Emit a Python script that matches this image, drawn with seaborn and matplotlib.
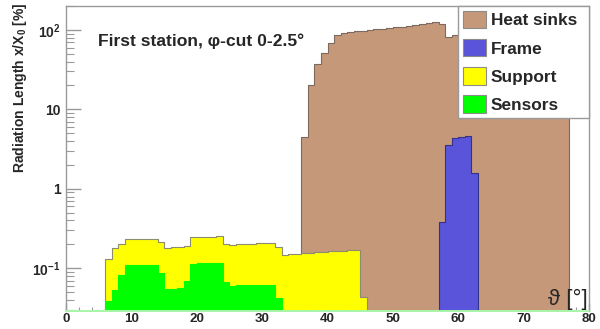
import numpy as np
import pandas as pd
import matplotlib
matplotlib.use("Agg")
import matplotlib.pyplot as plt
import seaborn as sns
from matplotlib.patches import Patch
from matplotlib.ticker import FixedLocator, FixedFormatter, NullFormatter, MultipleLocator, LogLocator

# Radiation length x/X0 [%] per 1-degree theta bin (first station, phi-cut 0-2.5 deg)
theta_edges = list(range(0, 81))

sensors_first_bin = 6
sensors = [0.039, 0.054, 0.082, 0.109, 0.109, 0.110, 0.111, 0.111, 0.087,
           0.055, 0.055, 0.056, 0.069, 0.114, 0.115, 0.115, 0.115, 0.115,
           0.067, 0.0606, 0.061, 0.061, 0.061, 0.062, 0.062, 0.062, 0.042]

support_first_bin = 6
support = [0.092, 0.125, 0.123, 0.123, 0.124, 0.124, 0.125, 0.125, 0.128,
           0.126, 0.128, 0.128, 0.124, 0.132, 0.133, 0.135, 0.136, 0.138,
           0.137, 0.137, 0.139, 0.141, 0.143, 0.144, 0.146, 0.148, 0.142,
           0.149, 0.151, 0.153, 0.155, 0.157, 0.159, 0.161, 0.163, 0.165,
           0.167, 0.168, 0.170, 0.044]

frame_first_bin = 57
frame = [0.38, 3.54, 4.39, 4.47, 4.65, 1.56]

heat_sinks_first_bin = 36
heat_sinks = [4.3, 20.4, 37.6, 51.4, 68.8, 85.1,
              92, 94, 96, 98, 100, 102, 104, 106, 108, 110, 113, 116, 119, 122, 125,
              119.6, 77.5, 81, 82, 83, 86,
              88, 89, 90, 90, 91, 92, 92, 93, 93, 94, 94, 95, 95, 96]

components = ["Heat sinks", "Frame", "Support", "Sensors"]
fill_colors = {"Heat sinks": "#C6987A", "Frame": "#5954D9",
               "Support": "#FFFF00", "Sensors": "#00FF00"}
edge_colors = {"Heat sinks": "#7d6a5e", "Frame": "#33318a",
               "Support": "#8c8c6e", "Sensors": "#00FF00"}

x_ticks = [0, 10, 20, 30, 40, 50, 60, 70, 80]
y_ticks = [0.1, 1, 10, 100]
y_tick_labels = [r"$10^{-1}$", "1", "10", r"$10^{2}$"]

title_text = "First station, \u03c6-cut 0-2.5\u00b0"
y_title = r"Radiation Length x/X$_{0}$ [%]"
x_title = "\u03d1 [\u00b0]"

sns.set_theme(style="white")
plt.rcParams["font.family"] = ["Liberation Sans", "DejaVu Sans"]
plt.rcParams["mathtext.fontset"] = "custom"
plt.rcParams["mathtext.rm"] = "Liberation Sans:bold"
plt.rcParams["mathtext.bf"] = "Liberation Sans:bold"
plt.rcParams["mathtext.it"] = "Liberation Sans:bold"
plt.rcParams["mathtext.default"] = "rm"

n_bins = len(theta_edges) - 1


def per_bin(values, first_bin):
    arr = np.zeros(n_bins)
    arr[first_bin:first_bin + len(values)] = values
    return arr


s = per_bin(sensors, sensors_first_bin)
p = per_bin(support, support_first_bin)
f = per_bin(frame, frame_first_bin)
h = per_bin(heat_sinks, heat_sinks_first_bin)

# stacked totals, bottom to top: sensors, support, frame, heat sinks
centers = np.arange(n_bins) + 0.5
stack = pd.DataFrame({
    "theta": centers,
    "Sensors": s,
    "Support": s + p,
    "Frame": np.where(f > 0, s + p + f, 0),
    "Heat sinks": np.where(h > 0, s + p + f + h, 0),
})

fig = plt.figure(figsize=(6.0, 3.29), dpi=100)
ax = fig.add_axes([66 / 600, 1 - 311 / 329, 523 / 600, 305 / 329])
ax.set_yscale("log")

for name in components:
    sns.histplot(data=stack, x="theta", weights=name, bins=theta_edges,
                 element="step", fill=True, color=fill_colors[name],
                 edgecolor=edge_colors[name], linewidth=0.8, alpha=1.0,
                 ax=ax, legend=False)

ax.set_xlim(0, 80)
ax.set_ylim(0.029, 200)
ax.set_xlabel("")
ax.set_ylabel("")

# axis styling
axis_gray = "#9a9a9a"
for side in ["left", "top", "right"]:
    ax.spines[side].set_color(axis_gray)
    ax.spines[side].set_linewidth(1.0)
ax.spines["bottom"].set_visible(False)
ax.axhline(0.029, color="#a8f5a8", lw=1.4, clip_on=False, zorder=5)

ax.xaxis.set_major_locator(FixedLocator(x_ticks))
ax.xaxis.set_minor_locator(MultipleLocator(2))
ax.yaxis.set_major_locator(FixedLocator(y_ticks))
ax.yaxis.set_major_formatter(FixedFormatter(y_tick_labels))
ax.yaxis.set_minor_locator(LogLocator(base=10, subs=np.arange(2, 10)))
ax.yaxis.set_minor_formatter(NullFormatter())

ax.tick_params(axis="y", which="major", direction="in", length=11, width=1.0,
               color=axis_gray, labelsize=10, pad=4, left=True, right=False)
ax.tick_params(axis="y", which="minor", direction="in", length=5.8, width=0.8,
               color=axis_gray, left=True, right=False)
ax.tick_params(axis="x", which="major", direction="in", length=5.8, width=1.0,
               color=axis_gray, labelsize=9.6, pad=1.5, bottom=True, top=False)
ax.tick_params(axis="x", which="minor", direction="in", length=2.9, width=0.8,
               color=axis_gray, bottom=True, top=False)
for lab in ax.get_xticklabels() + ax.get_yticklabels():
    lab.set_fontweight("bold")

# texts
ax.text((97.7 - 66) / 523, 1 - (46 - 6) / 305, title_text, transform=ax.transAxes,
        fontsize=12.6, fontweight="bold", ha="left", va="baseline", zorder=10)
fig.text(20 / 600, 1 - 88 / 329, y_title, rotation=90, fontsize=10,
         fontweight="bold", ha="center", va="center")
ax.text(0.998, 0.004, x_title, transform=ax.transAxes, fontsize=16,
        ha="right", va="bottom", zorder=10)

handles = [Patch(facecolor=fill_colors[n], edgecolor="#8c8c8c", linewidth=0.8)
           for n in components]
leg = ax.legend(handles, components, loc="upper right",
                bbox_to_anchor=((458 - 66) / 523, 0.0, (589 - 458) / 523, 1.0),
                mode="expand", borderaxespad=0.0, frameon=True, fancybox=False,
                prop={"weight": "bold", "size": 12.4},
                handlelength=1.34, handleheight=1.18, handletextpad=0.28,
                labelspacing=0.62, borderpad=0.28)
leg.get_frame().set_edgecolor(axis_gray)
leg.get_frame().set_linewidth(1.0)
leg.get_frame().set_alpha(1.0)
leg.set_zorder(20)

fig.savefig("out.png", dpi=100)
